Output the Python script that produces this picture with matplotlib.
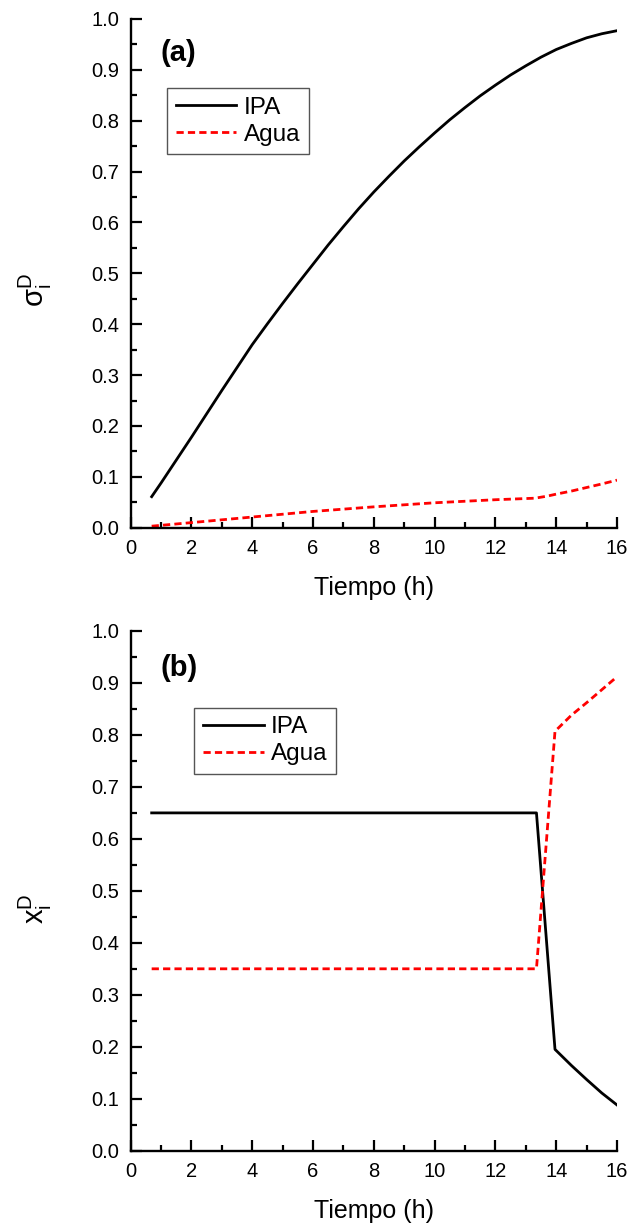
import matplotlib
matplotlib.use('Agg')
import matplotlib.pyplot as plt
from matplotlib.ticker import MultipleLocator

plt.rcParams['font.family'] = ['Liberation Sans', 'DejaVu Sans']
plt.rcParams['mathtext.fontset'] = 'custom'
plt.rcParams['mathtext.rm'] = 'Liberation Sans'
plt.rcParams['mathtext.it'] = 'Liberation Sans'

# (a) recovered fraction sigma_i^D
t_a = [0.69, 1.0, 1.5, 2.0, 2.5, 3.0, 3.5, 4.0, 4.5, 5.0, 5.5, 6.0, 6.5, 7.0, 7.5, 8.0,
       8.5, 9.0, 9.5, 10.0, 10.5, 11.0, 11.5, 12.0, 12.5, 13.0, 13.5, 14.0, 14.5, 15.0,
       15.5, 16.0]
ipa_a = [0.061, 0.088, 0.133, 0.178, 0.224, 0.270, 0.315, 0.360, 0.401, 0.441, 0.480,
         0.518, 0.556, 0.592, 0.627, 0.660, 0.691, 0.721, 0.749, 0.776, 0.802, 0.826,
         0.849, 0.870, 0.890, 0.908, 0.925, 0.940, 0.952, 0.963, 0.971, 0.977]
t_agua_a = [0.69, 2, 4, 6, 8, 10, 12, 13.3, 13.7, 14, 14.5, 15, 15.5, 16]
agua_a = [0.003, 0.010, 0.021, 0.032, 0.041, 0.049, 0.055, 0.058, 0.062, 0.066,
          0.072, 0.079, 0.086, 0.0935]

# (b) distillate composition x_i^D
t_b = [0.69, 13.35, 13.96, 14.5, 15, 15.5, 16]
ipa_b = [0.65, 0.65, 0.195, 0.164, 0.137, 0.111, 0.088]
agua_b = [0.35, 0.35, 0.807, 0.838, 0.862, 0.887, 0.912]

fig = plt.figure(figsize=(6.36, 12.25), dpi=100)
ax1 = fig.add_axes([130.7 / 636, 1 - 527.7 / 1225, 486.3 / 636, 508.7 / 1225])
ax2 = fig.add_axes([130.7 / 636, 1 - 1150.7 / 1225, 486.3 / 636, 519.7 / 1225])

panels = [
    (ax1, t_a, ipa_a, t_agua_a, agua_a, r'$\mathregular{\sigma_i^D}$', '(a)',
     (0.075, 0.864), 0.934, 0.468),
    (ax2, t_b, ipa_b, t_b, agua_b, r'$\mathregular{x_i^D}$', '(b)',
     (0.131, 0.852), 0.928, 0.466),
]

for ax, t1, y1, t2, y2, ylab, tag, legpos, tagy, laby in panels:
    ax.plot(t1, y1, color='black', lw=2, label='IPA')
    ax.plot(t2, y2, color='red', lw=2, ls=(0, (2.6, 1.5)), label='Agua')
    ax.set_xlim(0, 16)
    ax.set_ylim(0, 1.0)
    ax.xaxis.set_major_locator(MultipleLocator(2))
    ax.xaxis.set_minor_locator(MultipleLocator(1))
    ax.yaxis.set_major_locator(MultipleLocator(0.1))
    ax.yaxis.set_minor_locator(MultipleLocator(0.05))
    ax.tick_params(which='both', direction='in', width=1.6, labelsize=14.5)
    ax.tick_params(which='major', length=8, pad=8)
    ax.tick_params(which='minor', length=4.5)
    ax.spines['top'].set_visible(False)
    ax.spines['right'].set_visible(False)
    ax.spines['left'].set_linewidth(1.7)
    ax.spines['bottom'].set_linewidth(1.7)
    ax.set_xlabel('Tiempo (h)', fontsize=18, labelpad=13)
    ax.set_ylabel(ylab, fontsize=21)
    ax.yaxis.set_label_coords(-0.158, laby)
    ax.text(0.062, tagy, tag, transform=ax.transAxes, fontsize=21,
            fontweight='bold', va='center', ha='left')
    leg = ax.legend(loc='upper left', bbox_to_anchor=legpos, fontsize=17.5,
                    fancybox=False, framealpha=1, edgecolor='#555555',
                    handlelength=2.5, handletextpad=0.3, borderaxespad=0,
                    borderpad=0.35, labelspacing=0.2)
    leg.get_frame().set_linewidth(1.0)

plt.savefig('out.png', dpi=100)
